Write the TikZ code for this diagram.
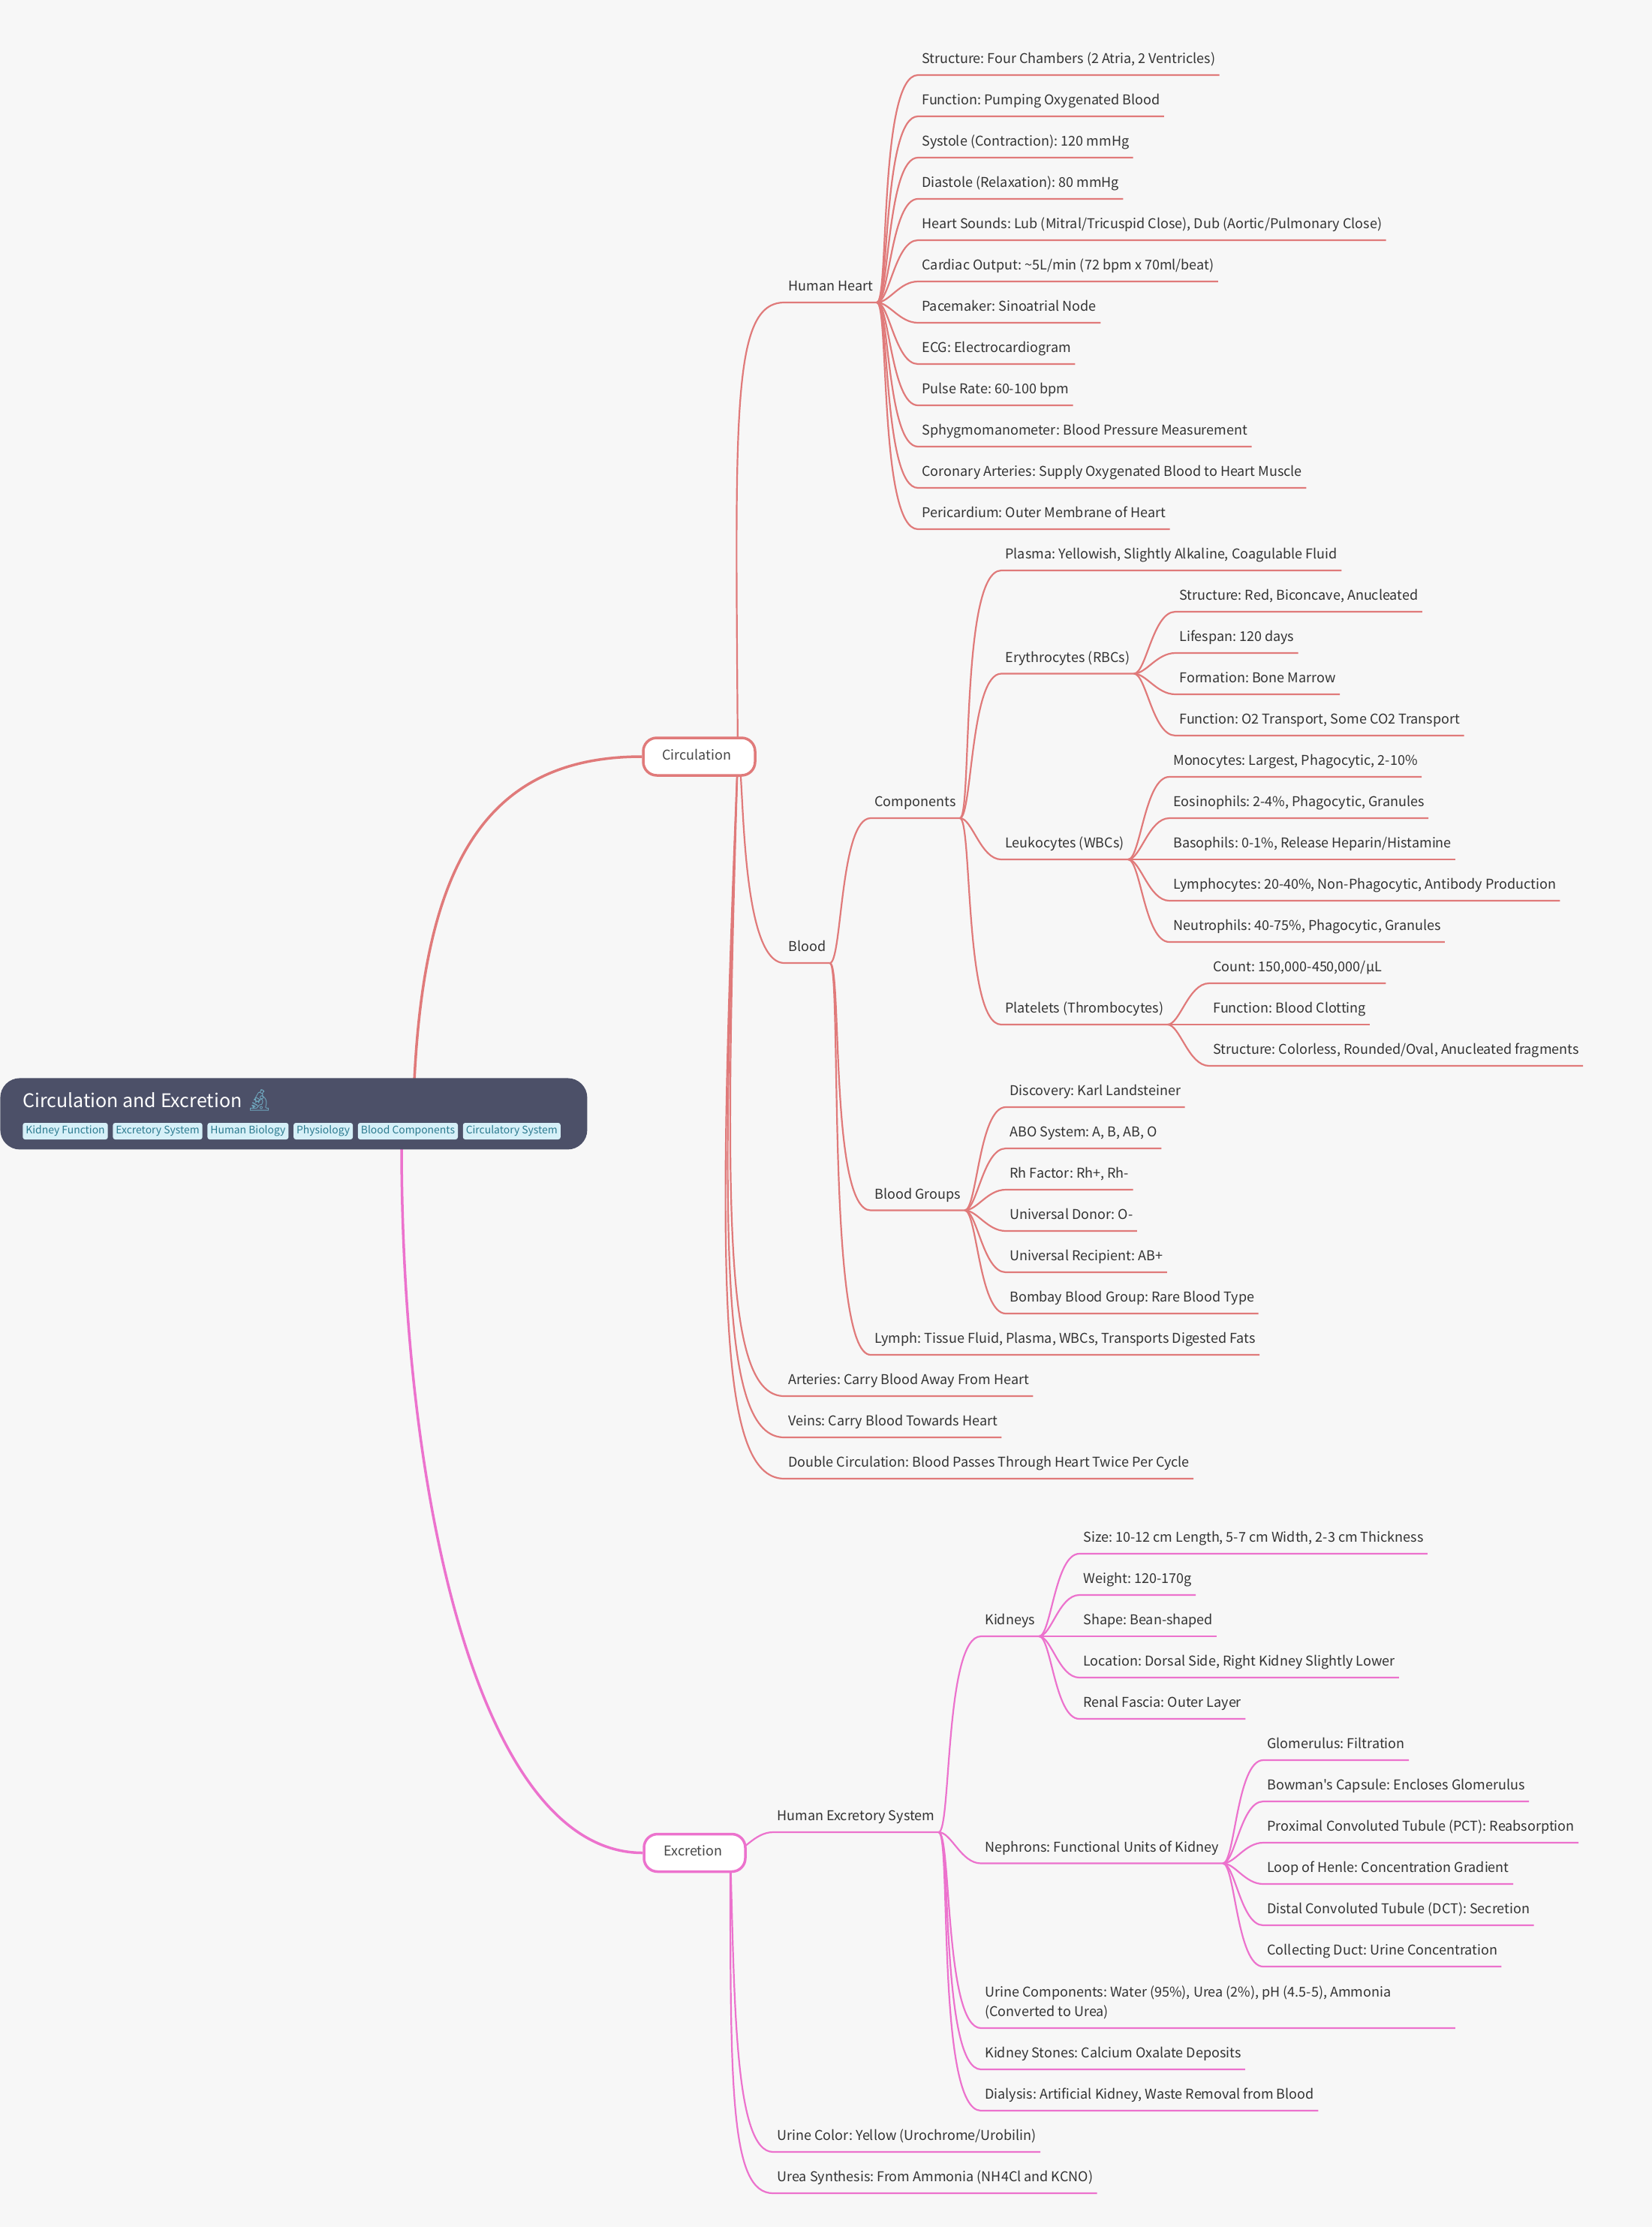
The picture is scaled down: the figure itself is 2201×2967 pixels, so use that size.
\documentclass[tikz,border=0pt]{standalone}
\usepackage{fontspec}
\usetikzlibrary{calc,positioning,backgrounds}
\newfontfamily\mapfont{Noto Sans CJK SC}
\newfontfamily\emojifont{Noto Emoji}
\definecolor{pagebg}{HTML}{F7F7F7}
\definecolor{rootbg}{HTML}{4C5068}
\definecolor{circline}{HTML}{E07A7A}
\definecolor{excline}{HTML}{EC72CD}
\definecolor{inktext}{HTML}{333333}
\definecolor{tagbg}{HTML}{D6F0F8}
\definecolor{tagtext}{HTML}{2B7A8F}
\definecolor{scopeblue}{HTML}{6FA8BF}
\tikzset{
	leaf/.style={anchor=south west, inner xsep=2.5pt, inner ysep=0pt, text height=9pt, text depth=7.5pt, text=inktext, font=\mapfont\frenchspacing\fontsize{9pt}{13pt}\selectfont},
	topic/.style={draw=#1, line width=1.75pt, fill=white, rounded corners=9pt, minimum height=25pt, inner xsep=0pt, inner ysep=0pt, text height=8pt, text depth=4pt, text=inktext!90!white, font=\mapfont\fontsize{9pt}{13pt}\selectfont},
	tag/.style={fill=tagbg, rounded corners=1.5pt, inner xsep=2pt, inner ysep=0pt, minimum height=11pt, text=tagtext, font=\mapfont\fontsize{6.95pt}{10pt}\selectfont},
	circ/.style={draw=circline, line width=1.1pt, line join=round},
	exc/.style={draw=excline, line width=1.1pt, line join=round}
}
% a curve out of a parent, running on as the underline of the child
\newcommand{\link}[3]{\draw[#1] let \p1=(#2),\p2=(#3.south west),\n1={max(-0.1,0.6-0.1*abs((\y2-\y1)/(\x2-\x1)))} in (#2) .. controls ({\x1+0.3*(\x2-\x1)},\y1) and ({\x1+\n1*(\x2-\x1)},\y2) .. (#3.south west) -- (#3.south east);}
% the same with the bend set by hand: first handle x and y, last handle x
\newcommand{\hublink}[6]{\draw[#4] let \p1=(#5),\p2=(#6.south west) in (#5) .. controls ({\x1+#1*(\x2-\x1)},{\y1+#2*(\y2-\y1)}) and ({\x1+#3*(\x2-\x1)},\y2) .. (#6.south west) -- (#6.south east);}

\begin{document}
\begin{tikzpicture}[x=0.5pt,y=-0.5pt]
		\useasboundingbox (0,0) rectangle (2201,2967);

		% root
		\node (root) [anchor=north west, fill=rootbg, rounded corners=13pt, minimum width=391pt, minimum height=47.5pt, inner sep=0pt] at (0,1436) {};
		\node (title) [anchor=west, inner sep=0pt, text=white, font=\mapfont\fontsize{12.5pt}{16pt}\selectfont] at (30,1466) {Circulation and Excretion {\emojifont\fontsize{14pt}{16pt}\selectfont\color{scopeblue}\symbol{"1F52C}}};
		\node (tagKidney) [tag, anchor=west] at (30,1507) {Kidney Function};
		\node (tagExcretory) [tag, right=3pt of tagKidney] {Excretory System};
		\node (tagBiology) [tag, right=3pt of tagExcretory] {Human Biology};
		\node (tagPhysio) [tag, right=3pt of tagBiology] {Physiology};
		\node (tagBlood) [tag, right=3pt of tagPhysio] {Blood Components};
		\node (tagCirculatory) [tag, right=3pt of tagBlood] {Circulatory System};

		% first level
		\node (circulation) [topic=circline, minimum width=74.5pt] at (931.5,1008) {Circulation\kern3.5pt};
		\node (excretion) [topic=excline, minimum width=67.5pt] at (925.5,2468.5) {Excretion\kern2pt};
		\coordinate (circhub) at (983,1008);
		\coordinate (exchub) at (973,2469);
		\coordinate (rootup) at (552,1440);
		\coordinate (rootdown) at (535,1525);

		% circulation side
		\node (heart) [leaf] at (1045,403) {Human Heart};
		\node (hStructure) [leaf] at (1223,100) {Structure: Four Chambers (2 Atria, 2 Ventricles)};
		\node (hFunction) [leaf] at (1223,155) {Function: Pumping Oxygenated Blood};
		\node (hSystole) [leaf] at (1223,210) {Systole (Contraction): 120 mmHg};
		\node (hDiastole) [leaf] at (1223,265) {Diastole (Relaxation): 80 mmHg};
		\node (hSounds) [leaf] at (1223,320) {Heart Sounds: Lub (Mitral/Tricuspid Close), Dub (Aortic/Pulmonary Close)};
		\node (hOutput) [leaf] at (1223,375) {Cardiac Output: \textasciitilde5L/min (72 bpm x 70ml/beat)};
		\node (hPacemaker) [leaf] at (1223,430) {Pacemaker: Sinoatrial Node};
		\node (hEcg) [leaf] at (1223,485) {ECG: Electrocardiogram};
		\node (hPulse) [leaf] at (1223,540) {Pulse Rate: 60-100 bpm};
		\node (hSphyg) [leaf] at (1223,595) {Sphygmomanometer: Blood Pressure Measurement};
		\node (hCoronary) [leaf] at (1223,650) {Coronary Arteries: Supply Oxygenated Blood to Heart Muscle};
		\node (hPericardium) [leaf] at (1223,705) {Pericardium: Outer Membrane of Heart};

		\node (blood) [leaf] at (1045,1283) {Blood};
		\node (components) [leaf] at (1160,1090) {Components};
		\node (plasma) [leaf] at (1334,760) {Plasma: Yellowish, Slightly Alkaline, Coagulable Fluid};
		\node (rbc) [leaf] at (1334,897.5) {Erythrocytes (RBCs)};
		\node (rStructure) [leaf] at (1566,815) {Structure: Red, Biconcave, Anucleated};
		\node (rLifespan) [leaf] at (1566,870) {Lifespan: 120 days};
		\node (rFormation) [leaf] at (1566,925) {Formation: Bone Marrow};
		\node (rFunction) [leaf] at (1566,980) {Function: O2 Transport, Some CO2 Transport};
		\node (wbc) [leaf] at (1334,1145) {Leukocytes (WBCs)};
		\node (wMono) [leaf] at (1558,1035) {Monocytes: Largest, Phagocytic, 2-10\%};
		\node (wEosino) [leaf] at (1558,1090) {Eosinophils: 2-4\%, Phagocytic, Granules};
		\node (wBaso) [leaf] at (1558,1145) {Basophils: 0-1\%, Release Heparin/Histamine};
		\node (wLympho) [leaf] at (1558,1200) {Lymphocytes: 20-40\%, Non-Phagocytic, Antibody Production};
		\node (wNeutro) [leaf] at (1558,1255) {Neutrophils: 40-75\%, Phagocytic, Granules};
		\node (platelets) [leaf] at (1334,1365) {Platelets (Thrombocytes)};
		\node (pCount) [leaf] at (1611,1310) {Count: 150,000-450,000/µL};
		\node (pFunction) [leaf] at (1611,1365) {Function: Blood Clotting};
		\node (pStructure) [leaf] at (1611,1420) {Structure: Colorless, Rounded/Oval, Anucleated fragments};
		\node (groups) [leaf] at (1160,1612.5) {Blood Groups};
		\node (gDiscovery) [leaf] at (1340,1475) {Discovery: Karl Landsteiner};
		\node (gAbo) [leaf] at (1340,1530) {ABO System: A, B, AB, O};
		\node (gRh) [leaf] at (1340,1585) {Rh Factor: Rh+, Rh-};
		\node (gDonor) [leaf] at (1340,1640) {Universal Donor: O-};
		\node (gRecipient) [leaf] at (1340,1695) {Universal Recipient: AB+};
		\node (gBombay) [leaf] at (1340,1750) {Bombay Blood Group: Rare Blood Type};
		\node (lymph) [leaf] at (1160,1805) {Lymph: Tissue Fluid, Plasma, WBCs, Transports Digested Fats};
		\node (arteries) [leaf] at (1045,1860) {Arteries: Carry Blood Away From Heart};
		\node (veins) [leaf] at (1045,1915) {Veins: Carry Blood Towards Heart};
		\node (double) [leaf] at (1045,1970) {Double Circulation: Blood Passes Through Heart Twice Per Cycle};

		% excretion side
		\node (system) [leaf] at (1030,2441) {Human Excretory System};
		\node (kidneys) [leaf] at (1307,2180) {Kidneys};
		\node (kSize) [leaf] at (1438,2070) {Size: 10-12 cm Length, 5-7 cm Width, 2-3 cm Thickness};
		\node (kWeight) [leaf] at (1438,2125) {Weight: 120-170g};
		\node (kShape) [leaf] at (1438,2180) {Shape: Bean-shaped};
		\node (kLocation) [leaf] at (1438,2235) {Location: Dorsal Side, Right Kidney Slightly Lower};
		\node (kFascia) [leaf] at (1438,2290) {Renal Fascia: Outer Layer};
		\node (nephrons) [leaf] at (1307,2482.5) {Nephrons: Functional Units of Kidney};
		\node (nGlomerulus) [leaf] at (1683,2345) {Glomerulus: Filtration};
		\node (nBowman) [leaf] at (1683,2400) {Bowman's Capsule: Encloses Glomerulus};
		\node (nPct) [leaf] at (1683,2455) {Proximal Convoluted Tubule (PCT): Reabsorption};
		\node (nLoop) [leaf] at (1683,2510) {Loop of Henle: Concentration Gradient};
		\node (nDct) [leaf] at (1683,2565) {Distal Convoluted Tubule (DCT): Secretion};
		\node (nDuct) [leaf] at (1683,2620) {Collecting Duct: Urine Concentration};
		\node (urine) [leaf, align=flush left, text width=310.5pt, text depth=20.5pt] at (1307,2702) {Urine Components: Water (95\%), Urea (2\%), pH (4.5-5), Ammonia\\(Converted to Urea)};
		\node (stones) [leaf] at (1307,2757) {Kidney Stones: Calcium Oxalate Deposits};
		\node (dialysis) [leaf] at (1307,2812) {Dialysis: Artificial Kidney, Waste Removal from Blood};
		\node (color) [leaf] at (1030,2867) {Urine Color: Yellow (Urochrome/Urobilin)};
		\node (urea) [leaf] at (1030,2922) {Urea Synthesis: From Ammonia (NH4Cl and KCNO)};

		\begin{scope}[on background layer]
		\fill [pagebg] (0,0) rectangle (2201,2967);

		\draw [circline, line width=1.75pt] (rootup) .. controls (566,1150) and (648,1008) .. (circulation.west);
		\draw [excline, line width=1.75pt] (rootdown) .. controls (535,2000) and (640,2468.5) .. (excretion.west);

		\hublink{-0.05}{0.75}{-0.15}{circ}{circhub}{heart}
		\hublink{0.15}{0}{0}{circ}{circhub}{blood}
		\hublink{-0.3}{0.72}{-0.3}{circ}{circhub}{arteries}
		\hublink{-0.38}{0.72}{-0.38}{circ}{circhub}{veins}
		\hublink{-0.45}{0.72}{-0.45}{circ}{circhub}{double}
		\link{circ}{heart.south east}{hStructure}
		\link{circ}{heart.south east}{hFunction}
		\link{circ}{heart.south east}{hSystole}
		\link{circ}{heart.south east}{hDiastole}
		\link{circ}{heart.south east}{hSounds}
		\link{circ}{heart.south east}{hOutput}
		\link{circ}{heart.south east}{hPacemaker}
		\link{circ}{heart.south east}{hEcg}
		\link{circ}{heart.south east}{hPulse}
		\link{circ}{heart.south east}{hSphyg}
		\link{circ}{heart.south east}{hCoronary}
		\link{circ}{heart.south east}{hPericardium}
		\link{circ}{blood.south east}{components}
		\link{circ}{blood.south east}{groups}
		\link{circ}{blood.south east}{lymph}
		\link{circ}{components.south east}{plasma}
		\link{circ}{components.south east}{rbc}
		\link{circ}{components.south east}{wbc}
		\link{circ}{components.south east}{platelets}
		\link{circ}{rbc.south east}{rStructure}
		\link{circ}{rbc.south east}{rLifespan}
		\link{circ}{rbc.south east}{rFormation}
		\link{circ}{rbc.south east}{rFunction}
		\link{circ}{wbc.south east}{wMono}
		\link{circ}{wbc.south east}{wEosino}
		\link{circ}{wbc.south east}{wBaso}
		\link{circ}{wbc.south east}{wLympho}
		\link{circ}{wbc.south east}{wNeutro}
		\link{circ}{platelets.south east}{pCount}
		\link{circ}{platelets.south east}{pFunction}
		\link{circ}{platelets.south east}{pStructure}
		\link{circ}{groups.south east}{gDiscovery}
		\link{circ}{groups.south east}{gAbo}
		\link{circ}{groups.south east}{gRh}
		\link{circ}{groups.south east}{gDonor}
		\link{circ}{groups.south east}{gRecipient}
		\link{circ}{groups.south east}{gBombay}

		\link{exc}{exchub}{system}
		\hublink{0.1}{0.5}{0.1}{exc}{exchub}{color}
		\hublink{0}{0.7}{0}{exc}{exchub}{urea}
		\link{exc}{system.south east}{kidneys}
		\link{exc}{system.south east}{nephrons}
		\link{exc}{system.south east}{urine}
		\link{exc}{system.south east}{stones}
		\link{exc}{system.south east}{dialysis}
		\link{exc}{kidneys.south east}{kSize}
		\link{exc}{kidneys.south east}{kWeight}
		\link{exc}{kidneys.south east}{kShape}
		\link{exc}{kidneys.south east}{kLocation}
		\link{exc}{kidneys.south east}{kFascia}
		\link{exc}{nephrons.south east}{nGlomerulus}
		\link{exc}{nephrons.south east}{nBowman}
		\link{exc}{nephrons.south east}{nPct}
		\link{exc}{nephrons.south east}{nLoop}
		\link{exc}{nephrons.south east}{nDct}
		\link{exc}{nephrons.south east}{nDuct}
		\end{scope}
\end{tikzpicture}
\end{document}
